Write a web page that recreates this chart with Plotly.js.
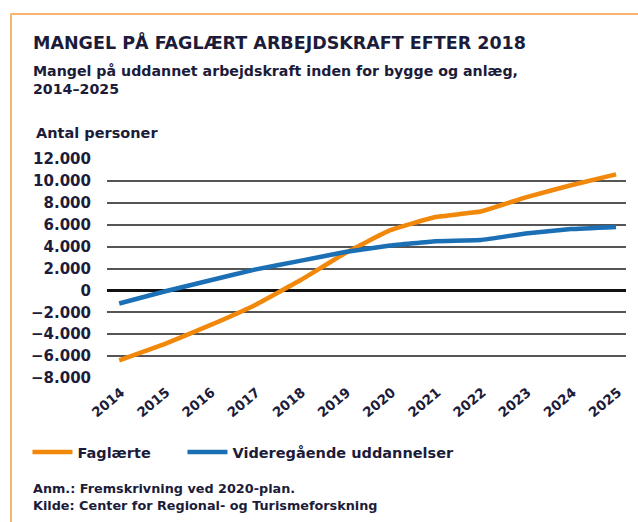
<!DOCTYPE html>
<html><head><meta charset="utf-8">
<script src="https://cdn.plot.ly/plotly-3.0.1.min.js"></script>
<style>
html,body{margin:0;padding:0;background:#fff;}
#wrap{position:relative;width:638px;height:522px;}
#chart{width:638px;height:522px;}
#frame{position:absolute;left:10px;top:13px;right:-5px;bottom:-5px;border-top:2px solid #f7b56e;border-left:2px solid #f7b56e;border-radius:2px 0 0 0;pointer-events:none;}
</style></head>
<body>
<div id="wrap"><div id="chart"></div><div id="frame"></div></div>
<script>
const years = [2014,2015,2016,2017,2018,2019,2020,2021,2022,2023,2024,2025];
const faglaerte = [-6400,-4900,-3200,-1350,900,3400,5500,6700,7200,8500,9600,10600];
const videregaaende = [-1200,-100,900,1900,2700,3500,4100,4500,4600,5200,5600,5800];
const yTicks = [-8000,-6000,-4000,-2000,0,2000,4000,6000,8000,10000,12000];
const yTickText = ['−8.000','−6.000','−4.000','−2.000','0','2.000','4.000','6.000','8.000','10.000','12.000'];
const seriesNames = ['Faglærte','Videregående uddannelser'];

const FONT = 'DejaVu Sans, sans-serif';
const TXT = '#1c1c3a';

const traces = [
  {x: years, y: faglaerte, name: seriesNames[0], type:'scatter', mode:'lines', legend:'legend',
   line:{color:'#f2880a', width:4.5, shape:'spline', smoothing:0.3}},
  {x: years, y: videregaaende, name: seriesNames[1], type:'scatter', mode:'lines', legend:'legend2',
   line:{color:'#1a6fb5', width:4.5, shape:'spline', smoothing:0.3}}
];

const legFont = {size:14.5, family:FONT, color:TXT, weight:700};
const layout = {
  width:638, height:522,
  margin:{l:107, r:12, t:159, b:144},
  paper_bgcolor:'#fff', plot_bgcolor:'#fff',
  font:{family:FONT, color:TXT},
  showlegend:true,
  legend:{orientation:'h', xref:'container', yref:'container', x:0.043, y:0.134, xanchor:'left', yanchor:'middle',
          font:legFont, itemwidth:40},
  legend2:{orientation:'h', xref:'container', yref:'container', x:0.286, y:0.134, xanchor:'left', yanchor:'middle',
          font:legFont, itemwidth:40},
  xaxis:{type:'linear', range:[2013.73, 2025.22], tickvals:years, ticktext:years.map(String),
         tickangle:-40, showgrid:false, zeroline:false, showline:false, ticks:'',
         tickfont:{size:13.5, family:FONT, color:TXT, weight:700}, ticklabelstandoff:3, ticklabelshift:2},
  yaxis:{range:[-8000,12000], tickvals:yTicks, ticktext:yTickText, showgrid:true,
         gridcolor:'#555', gridwidth:2, zeroline:true, zerolinecolor:'#111', zerolinewidth:2.5,
         showline:false, ticks:'', tickfont:{size:15, family:FONT, color:TXT, weight:700},
         ticklabelstandoff:15, fixedrange:true},
  annotations:[
    {text:'MANGEL PÅ FAGLÆRT ARBEJDSKRAFT EFTER 2018', xref:'paper', yref:'paper', x:-0.146, y:1.535,
     xanchor:'left', yanchor:'middle', showarrow:false, font:{size:17.5, family:FONT, color:TXT, weight:700}},
    {text:'Mangel på uddannet arbejdskraft inden for bygge og anlæg,<br>2014–2025', xref:'paper', yref:'paper',
     x:-0.146, y:1.36, xanchor:'left', yanchor:'middle', align:'left', showarrow:false,
     font:{size:14.2, family:FONT, color:TXT, weight:700}},
    {text:'Antal personer', xref:'paper', yref:'paper', x:-0.14, y:1.118, xanchor:'left', yanchor:'middle',
     showarrow:false, font:{size:14.5, family:FONT, color:TXT, weight:700}},
    {text:'Anm.: Fremskrivning ved 2020-plan.<br>Kilde: Center for Regional- og Turismeforskning', xref:'paper', yref:'paper',
     x:-0.146, y:-0.545, xanchor:'left', yanchor:'middle', align:'left', showarrow:false,
     font:{size:12.8, family:FONT, color:TXT, weight:700}}
  ]
};
Plotly.newPlot('chart', traces, layout, {displayModeBar:false, staticPlot:true});
</script>
</body></html>
